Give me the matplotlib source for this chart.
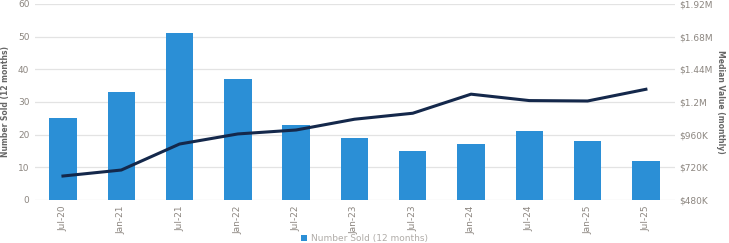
import numpy as np
import matplotlib
matplotlib.use("Agg")
import matplotlib.pyplot as plt

months = ['Jul-20', 'Jan-21', 'Jul-21', 'Jan-22', 'Jul-22', 'Jan-23',
          'Jul-23', 'Jan-24', 'Jul-24', 'Jan-25', 'Jul-25']
number_sold = [25, 33, 51, 37, 23, 19, 15, 17, 21, 18, 12]
median_value = [656000, 700000, 891000, 965000, 994000, 1073000,
                1117000, 1257000, 1210000, 1207000, 1293000]

left_ticks = [0, 10, 20, 30, 40, 50, 60]
right_ticks = [480000, 720000, 960000, 1200000, 1440000, 1680000, 1920000]
right_labels = ['$480K', '$720K', '$960K', '$1.2M', '$1.44M', '$1.68M', '$1.92M']

grey = '#8c8680'
fig = plt.figure(figsize=(7.29, 2.43), dpi=100)
ax = fig.add_axes([0.048, 0.177, 0.878, 0.807])
x = np.arange(len(months))

bars = ax.bar(x, number_sold, width=0.47, color='#2b8fd6', zorder=2,
              label='Number Sold (12 months)')
ax.set_ylim(0, 60)
ax.set_xlim(-0.48, 10.5)
ax.set_yticks(left_ticks)
ax.grid(axis='y', color='#e3e3e3', linewidth=0.9, zorder=0)
ax.set_axisbelow(True)
for s in ax.spines.values():
    s.set_visible(False)
ax.set_xticks(x)
ax.set_xticklabels(months, rotation=90, fontsize=6.5, color=grey)
ax.tick_params(axis='both', length=0, pad=4, labelsize=6.5, labelcolor=grey)
ax.set_ylabel('Number Sold (12 months)', fontsize=5.5, color='#666666',
              fontweight='bold', labelpad=6)

ax2 = ax.twinx()
ax2.plot(x, median_value, color='#14284b', linewidth=2.2, zorder=3,
         label='Median Value (monthly)')
ax2.set_ylim(480000, 1920000)
ax2.set_yticks(right_ticks)
ax2.set_yticklabels(right_labels)
ax2.tick_params(axis='y', length=0, pad=3, labelsize=6.5, labelcolor=grey)
for s in ax2.spines.values():
    s.set_visible(False)
ax2.set_ylabel('Median Value (monthly)', fontsize=5.5, color='#666666',
               fontweight='bold', rotation=270, labelpad=9)

fig.legend([bars], ['Number Sold (12 months)'], loc='lower center',
           bbox_to_anchor=(0.5, -0.035), frameon=False, fontsize=6.5,
           labelcolor='#b0aca8', handlelength=0.7, handleheight=0.7,
           handletextpad=0.5)

fig.savefig('out.png', dpi=100)
